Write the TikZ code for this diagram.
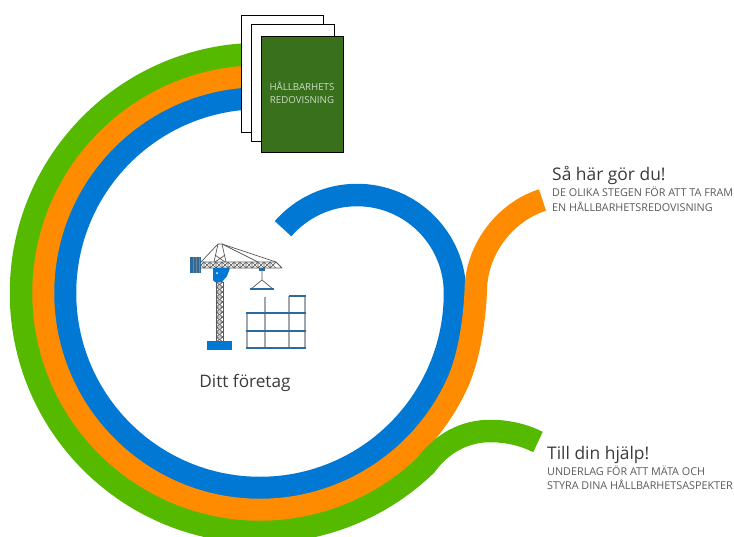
\documentclass[tikz,border=0pt]{standalone}
\usepackage{fontspec}
\setmainfont{Open Sans}
\definecolor{cgreen}{HTML}{55B900}
\definecolor{corange}{HTML}{FF8C00}
\definecolor{cblue}{HTML}{0078D4}
\definecolor{cdark}{HTML}{38701C}
\definecolor{cnavy}{HTML}{2A6A9C}
\definecolor{cgrey}{HTML}{A2A6AA}
\definecolor{ctext}{HTML}{3A3A3A}
\definecolor{csub}{HTML}{5A5A5A}
\tikzset{
  band/.style={line width=22.5pt,line cap=butt,line join=round},
  sheet/.style={draw=black,fill=white,line width=0.9pt},
  head/.style={font=\fontsize{17.4}{20}\selectfont,text=ctext,anchor=base west,inner sep=0pt},
  sub/.style={font=\fontsize{10.8}{12}\selectfont,text=csub,anchor=base west,inner sep=0pt},
  floor/.style={draw=cnavy,line width=1.7pt},
  column/.style={draw=cgrey,line width=1.1pt},
  lattice/.style={draw=black!65,line width=0.7pt}
}
\begin{document}
\begin{tikzpicture}[x=1pt,y=-1pt]
\useasboundingbox (0,0) rectangle (734,536);
% bands
\begin{scope}[shift={(260,293)}]
\draw[band,cblue] (270:195) arc[start angle=270,end angle=0,radius=195]
  arc[start angle=0,end angle=-139,radius=98];
\draw[band,corange] (270:217) arc[start angle=270,end angle=25,radius=217]
  .. controls (209.4,64.5) and (215,25) .. (216,-8)
  .. controls (219,-50) and (250,-83) .. (282.5,-93);
\draw[band,cgreen] (270:239) arc[start angle=270,end angle=46,radius=239]
  .. controls (182,150) and (205,138) .. (230,138)
  .. controls (248,138) and (264,142) .. (278,149);
\end{scope}
% pages
\draw[sheet] (241,15) rectangle (323,132);
\draw[sheet] (251,24) rectangle (334,141);
\node[draw=black,fill=cdark,line width=0.9pt,minimum width=82pt,minimum height=116pt,inner sep=0pt,anchor=north west] (report) at (261,36) {};
\node[font=\fontsize{9.7}{10}\selectfont,text=white!75!cdark,inner sep=0pt,anchor=base] (r1) at (302,90) {HÅLLBARHETS};
\node[font=\fontsize{9.7}{10}\selectfont,text=white!75!cdark,inner sep=0pt,anchor=base] (r2) at (302,103) {REDOVISNING};
% crane mast
\foreach \y in {282,287,...,337}{
  \draw[lattice] (216,\y) -- (223,\y+5) (223,\y) -- (216,\y+5) (216,\y) -- (223,\y);
}
\draw[lattice,line width=0.9pt] (216,282) -- (216,342) (223,282) -- (223,342);
\fill[cblue] (207,341) rectangle (232,349);
\draw[cnavy,line width=0.8pt] (207,341) -- (232,341) (207,345) -- (232,345) (207,349) -- (232,349);
% jib
\foreach \x in {198,204,...,270}{
  \draw[lattice] (\x,262) -- (\x+6,268) (\x+6,262) -- (\x,268) (\x,262) -- (\x,268);
}
\draw[lattice,line width=0.9pt] (198,262) -- (276,262) (198,268) -- (282,268) (276,262) -- (282,268);
\fill[cnavy] (190,257) rectangle (201,273);
\draw[black!50,line width=0.4pt] (193,257) -- (193,273) (196,257) -- (196,273) (199,257) -- (199,273);
% tower top and cables
\draw[lattice] (201,262) -- (218,244) -- (222,244) -- (276,262);
\draw[lattice] (222,244) -- (258,262);
\draw[lattice] (218,244) -- (214,262) (222,244) -- (226,262) (215,255) -- (225,262) (225,255) -- (215,262);
% cab
\fill[cblue] (213,268) -- (230,268) -- (227,276) -- (222,282) -- (215,282) -- (213,280) -- cycle;
\fill[white] (217,273) circle (1pt);
% hook
\fill[cnavy] (259,268) rectangle (265,271);
\draw[lattice] (262,271) -- (262,280) -- (251,289) (262,280) -- (273,289);
\draw[floor] (250,289) -- (274,289);
% building
\draw[column] (247,313) -- (247,348) (265,297) -- (265,348) (289,296) -- (289,348) (305,296) -- (305,348);
\draw[floor] (289,296) -- (306,296) (246,313) -- (306,313) (246,331) -- (306,331) (246,348) -- (306,348);
% labels
\node[font=\fontsize{17.2}{18}\selectfont,text=ctext,inner sep=0pt,anchor=base] (company) at (245,387) {Ditt företag};
\node[head] (a1) at (552,180) {Så här gör du!};
\node[sub] (a2) at (552,196) {DE OLIKA STEGEN FÖR ATT TA FRAM};
\node[sub] (a3) at (552,211) {EN HÅLLBARHETSREDOVISNING};
\node[head] (b1) at (547,459) {Till din hjälp!};
\node[sub] (b2) at (547,475) {UNDERLAG FÖR ATT MÄTA OCH};
\node[sub] (b3) at (547,489) {STYRA DINA HÅLLBARHETSASPEKTER};
\end{tikzpicture}
\end{document}
